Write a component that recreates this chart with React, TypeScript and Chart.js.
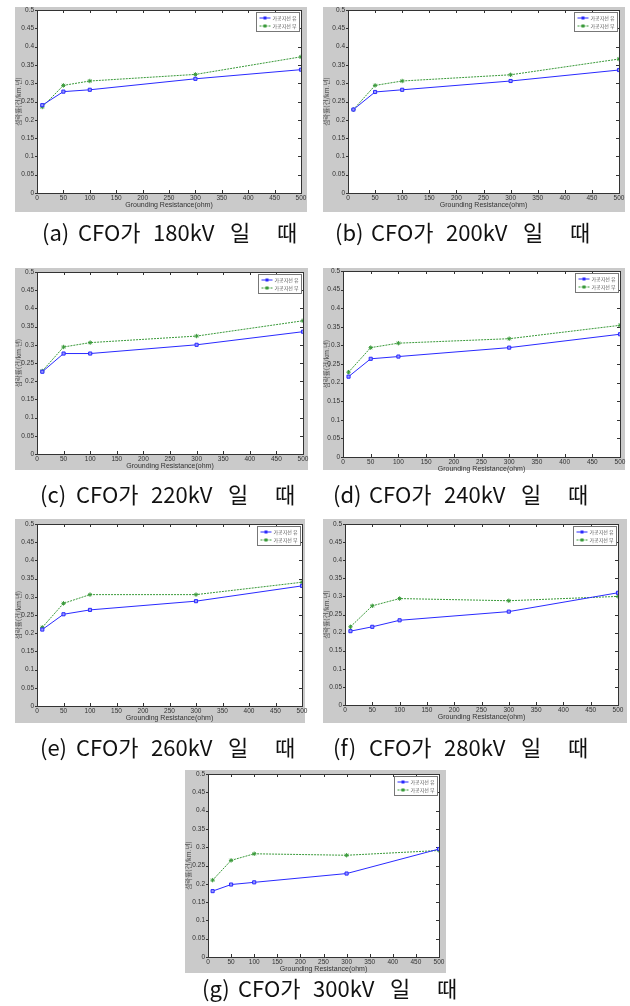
import React, { useEffect, useRef } from "react";
import { Chart, registerables } from "chart.js";
Chart.register(...registerables);

// ---------- data ----------
const resistance = [10, 50, 100, 300, 500];
const xTickStep = 50;
const yTickStep = 0.05;
const seriesLabels = ["가공지선 유", "가공지선 무"];
const xTitle = "Grounding Resistance(ohm)";
const yTitle = "섬락률(건/km.년)";

const with180 = [0.24, 0.277, 0.282, 0.312, 0.337];
const without180 = [0.235, 0.294, 0.306, 0.324, 0.372];
const with200 = [0.228, 0.276, 0.282, 0.306, 0.336];
const without200 = [0.228, 0.294, 0.306, 0.323, 0.366];
const with220 = [0.226, 0.276, 0.276, 0.3, 0.336];
const without220 = [0.228, 0.294, 0.306, 0.324, 0.366];
const with240 = [0.216, 0.264, 0.27, 0.294, 0.33];
const without240 = [0.228, 0.294, 0.306, 0.318, 0.354];
const with260 = [0.21, 0.252, 0.264, 0.288, 0.33];
const without260 = [0.216, 0.282, 0.306, 0.306, 0.34];
const with280 = [0.204, 0.216, 0.234, 0.258, 0.31];
const without280 = [0.216, 0.274, 0.294, 0.288, 0.3];
const with300 = [0.18, 0.198, 0.204, 0.228, 0.295];
const without300 = [0.21, 0.264, 0.282, 0.278, 0.291];

const captionIds = ["(a)", "(b)", "(c)", "(d)", "(e)", "(f)", "(g)"];
const captionKV = ["180kV", "200kV", "220kV", "240kV", "260kV", "280kV", "300kV"];

const panelData = [
  [with180, without180],
  [with200, without200],
  [with220, without220],
  [with240, without240],
  [with260, without260],
  [with280, without280],
  [with300, without300],
];

// ---------- layout ----------
type Geo = { gx: number; gy: number; gw: number; gh: number; l: number; t: number; r: number; b: number; cx: number; cy: number };
const geos: Geo[] = [
  { gx: 15, gy: 7, gw: 292, gh: 205, l: 37, t: 10, r: 301, b: 193, cx: 42, cy: 231 },
  { gx: 323, gy: 7, gw: 302, gh: 205, l: 348, t: 10, r: 619, b: 193, cx: 335, cy: 231 },
  { gx: 15, gy: 268, gw: 293, gh: 202, l: 37, t: 272, r: 303, b: 454, cx: 40, cy: 493 },
  { gx: 323, gy: 268, gw: 302, gh: 202, l: 343, t: 271, r: 620, b: 457, cx: 333, cy: 493 },
  { gx: 15, gy: 519, gw: 290, gh: 204, l: 37, t: 524, r: 302, b: 706, cx: 40, cy: 746 },
  { gx: 323, gy: 519, gw: 304, gh: 204, l: 345, t: 524, r: 618, b: 705, cx: 333, cy: 746 },
  { gx: 185, gy: 770, gw: 261, gh: 203, l: 208, t: 774, r: 439, b: 957, cx: 202, cy: 987 },
];
const wordOffsets = [0, 36, 111, 188, 235];

const M = 10;
const FONT = "'Liberation Sans Narrow', 'Liberation Sans', Arial, sans-serif";
const BLUE = "#2a2aff";
const GREEN = "#3a9a3a";

const framePlugin = {
  id: "frame",
  beforeDatasetsDraw(chart: any) {
    const { ctx, chartArea: a, scales } = chart;
    ctx.save();
    ctx.fillStyle = "#ffffff";
    ctx.fillRect(a.left, a.top, a.right - a.left, a.bottom - a.top);
    ctx.strokeStyle = "#333333";
    ctx.lineWidth = 1;
    ctx.strokeRect(Math.round(a.left) + 0.5, Math.round(a.top) + 0.5, Math.round(a.right - a.left), Math.round(a.bottom - a.top));
    ctx.beginPath();
    for (let v = 0; v <= 500; v += xTickStep) {
      const px = Math.round(scales.x.getPixelForValue(v)) + 0.5;
      ctx.moveTo(px, a.bottom);
      ctx.lineTo(px, a.bottom - 3);
      ctx.moveTo(px, a.top);
      ctx.lineTo(px, a.top + 3);
    }
    for (let i = 0; i <= 10; i++) {
      const py = Math.round(scales.y.getPixelForValue(i * yTickStep)) + 0.5;
      ctx.moveTo(a.left - 2, py);
      ctx.lineTo(a.left, py);
      ctx.moveTo(a.right, py);
      ctx.lineTo(a.right - 3, py);
    }
    ctx.stroke();
    ctx.restore();
  },
  afterDatasetsDraw(chart: any) {
    const { ctx, chartArea: a } = chart;
    const w = 43, h = 19;
    const x0 = Math.round(a.right - 2 - w) + 0.5;
    const y0 = Math.round(a.top + 2) + 0.5;
    ctx.save();
    ctx.fillStyle = "#ffffff";
    ctx.fillRect(x0, y0, w, h);
    ctx.strokeStyle = "#777777";
    ctx.lineWidth = 1;
    ctx.strokeRect(x0, y0, w, h);
    chart.data.datasets.forEach((ds: any, i: number) => {
      const yy = y0 + 5.5 + i * 8;
      ctx.strokeStyle = ds.borderColor;
      ctx.setLineDash(ds.borderDash || []);
      ctx.beginPath();
      ctx.moveTo(x0 + 3, yy);
      ctx.lineTo(x0 + 14, yy);
      ctx.stroke();
      ctx.setLineDash([]);
      ctx.fillStyle = ds.borderColor;
      ctx.fillRect(x0 + 7, yy - 1.5, 3, 3);
      ctx.fillStyle = "#555555";
      ctx.font = `5px 'Noto Sans CJK KR', sans-serif`;
      ctx.textBaseline = "middle";
      ctx.fillText(ds.label, x0 + 16, yy + 0.5);
    });
    ctx.restore();
  },
};

function Panel({ geo, data }: { geo: Geo; data: number[][] }) {
  const ref = useRef<HTMLCanvasElement>(null);
  const cw = geo.gw + 2 * M;
  const ch = geo.gh + 2 * M;
  const cxo = geo.gx - M;
  const cyo = geo.gy - M;
  useEffect(() => {
    const yWidth = geo.l - geo.gx;
    const xHeight = 16;
    const font = { family: FONT, size: 6.5 };
    const chart = new Chart(ref.current!, {
      type: "line",
      data: {
        datasets: [
          {
            label: seriesLabels[0],
            data: resistance.map((x, i) => ({ x, y: data[0][i] })),
            borderColor: BLUE,
            backgroundColor: "#9a9aff",
            borderWidth: 1,
            pointStyle: "rect",
            pointRadius: 2.2,
            pointBorderWidth: 1,
            pointBorderColor: BLUE,
            pointBackgroundColor: "#9a9aff",
          },
          {
            label: seriesLabels[1],
            data: resistance.map((x, i) => ({ x, y: data[1][i] })),
            borderColor: GREEN,
            backgroundColor: GREEN,
            borderWidth: 1,
            borderDash: [2, 1],
            pointStyle: "star",
            pointRadius: 2.2,
            pointBorderWidth: 1,
            pointBorderColor: GREEN,
          },
        ],
      },
      options: {
        animation: false,
        responsive: false,
        devicePixelRatio: 1,
        layout: {
          padding: {
            left: geo.gx - cxo,
            top: geo.t - cyo,
            right: cxo + cw - geo.r,
            bottom: ch - (geo.b - cyo) - xHeight,
          },
        },
        plugins: { legend: { display: false }, tooltip: { enabled: false } },
        scales: {
          x: {
            type: "linear",
            min: 0,
            max: 500,
            ticks: { stepSize: xTickStep, padding: 1, font, color: "#333", maxRotation: 0, autoSkip: false },
            grid: { display: false, drawTicks: false },
            border: { display: false },
            title: { display: true, text: xTitle, font: { family: FONT, size: 7 }, color: "#333", padding: 0 },
            afterFit: (s: any) => { s.height = xHeight; },
          },
          y: {
            type: "linear",
            min: 0,
            max: 0.5,
            ticks: {
              stepSize: yTickStep,
              padding: 3,
              font,
              color: "#333",
              autoSkip: false,
              callback: (v: any) => String(Number(Number(v).toFixed(2))),
            },
            grid: { display: false, drawTicks: false },
            border: { display: false },
            title: { display: true, text: yTitle, font: { family: "'Noto Sans CJK KR', sans-serif", size: 6.5 }, color: "#555", padding: 0 },
            afterFit: (s: any) => { s.width = yWidth; },
          },
        },
      } as any,
      plugins: [framePlugin],
    });
    return () => chart.destroy();
  }, []);
  return (
    <>
      <div style={{ position: "absolute", left: geo.gx, top: geo.gy, width: geo.gw, height: geo.gh, background: "#cacaca" }} />
      <canvas ref={ref} width={cw} height={ch} style={{ position: "absolute", left: cxo, top: cyo, width: cw, height: ch }} />
    </>
  );
}

export default function App() {
  return (
    <div style={{ position: "fixed", left: 0, top: 0, width: 630, height: 1006, background: "#fff", overflow: "hidden" }}>
      {geos.map((g, i) => (
        <Panel key={i} geo={g} data={panelData[i]} />
      ))}
      {geos.map((g, i) => {
        const words = [captionIds[i], "CFO가", captionKV[i], "일", "때"];
        return words.map((w, j) => (
          <div
            key={"c" + i + "-" + j}
            style={{
              position: "absolute",
              left: g.cx + wordOffsets[j],
              top: g.cy - 15,
              height: 30,
              lineHeight: "30px",
              fontFamily: "'Noto Sans CJK KR', sans-serif",
              fontSize: 22,
              color: "#111",
              whiteSpace: "pre",
            }}
          >
            {w}
          </div>
        ));
      })}
    </div>
  );
}
